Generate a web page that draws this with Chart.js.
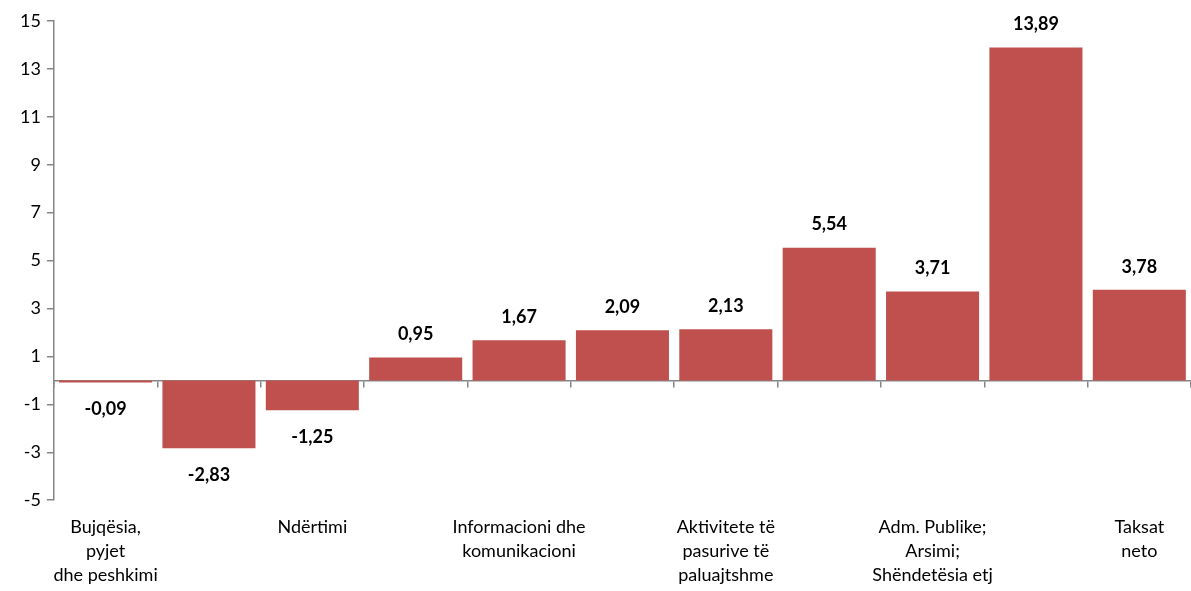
<!DOCTYPE html>
<html>
<head>
<meta charset="utf-8">
<script src="https://cdn.jsdelivr.net/npm/chart.js@4"></script>
<style>
  body { margin: 0; background: #fff; }
  #wrap { width: 1191px; height: 591px; }
</style>
</head>
<body>
<div id="wrap"><canvas id="myChart"></canvas></div>
<script>
// categories (only every other one is labelled in the original)
const labels = [
  ['Bujqësia,', 'pyjet', 'dhe peshkimi'],
  '',
  ['Ndërtimi'],
  '',
  ['Informacioni dhe', 'komunikacioni'],
  '',
  ['Aktivitete të', 'pasurive të', 'paluajtshme'],
  '',
  ['Adm. Publike;', 'Arsimi;', 'Shëndetësia etj'],
  '',
  ['Taksat', 'neto']
];
const values = [-0.09, -2.83, -1.25, 0.95, 1.67, 2.09, 2.13, 5.54, 3.71, 13.89, 3.78];
const yTicks = [-5, -3, -1, 1, 3, 5, 7, 9, 11, 13, 15];

const axisGray = '#868686';
const font = { family: 'Lato, "Open Sans", sans-serif', size: 18, lineHeight: 1.33 };

// value labels above/below each bar
const valueLabels = {
  id: 'valueLabels',
  afterDatasetsDraw(chart) {
    const c = chart.ctx;
    const meta = chart.getDatasetMeta(0);
    c.save();
    c.font = 'bold 18px Lato, "Open Sans", sans-serif';
    c.fillStyle = '#000';
    c.textAlign = 'center';
    c.textBaseline = 'middle';
    meta.data.forEach((bar, i) => {
      const v = values[i];
      const y = v < 0 ? bar.y + 27 : bar.y - 23;
      c.fillText(v.toFixed(2).replace('.', ','), bar.x, y);
    });
    c.restore();
  }
};

const ctx = document.getElementById('myChart').getContext('2d');
const myChart = new Chart(ctx, {
  type: 'bar',
  data: {
    labels: labels,
    datasets: [{
      data: values,
      backgroundColor: '#C0504D',
      borderWidth: 0,
      barPercentage: 0.9,
      categoryPercentage: 1.0,
      xAxisID: 'x'
    }]
  },
  plugins: [valueLabels],
  options: {
    responsive: true,
    maintainAspectRatio: false,
    animation: false,
    layout: { padding: { top: 21, right: 0, left: 14, bottom: -3 } },
    plugins: {
      legend: { display: false },
      tooltip: { enabled: false }
    },
    scales: {
      x: {
        type: 'category',
        position: { y: 0 },
        offset: true,
        grid: { offset: true, drawOnChartArea: false, drawTicks: true, tickLength: 6, color: axisGray, lineWidth: 1.5 },
        border: { display: true, color: axisGray, width: 1.5 },
        ticks: { display: false }
      },
      x2: {
        type: 'category',
        position: 'bottom',
        labels: labels,
        offset: true,
        grid: { display: false },
        border: { display: false },
        ticks: { color: '#000', font: font, maxRotation: 0, autoSkip: false, padding: 7 }
      },
      y: {
        min: -5,
        max: 15,
        afterBuildTicks(scale) { scale.ticks = yTicks.map(v => ({ value: v })); },
        grid: { drawOnChartArea: false, drawTicks: true, tickLength: 7, color: axisGray, lineWidth: 1.5 },
        border: { display: true, color: axisGray, width: 1.5 },
        ticks: { color: '#000', font: font, padding: 6 }
      }
    }
  }
});
</script>
</body>
</html>
